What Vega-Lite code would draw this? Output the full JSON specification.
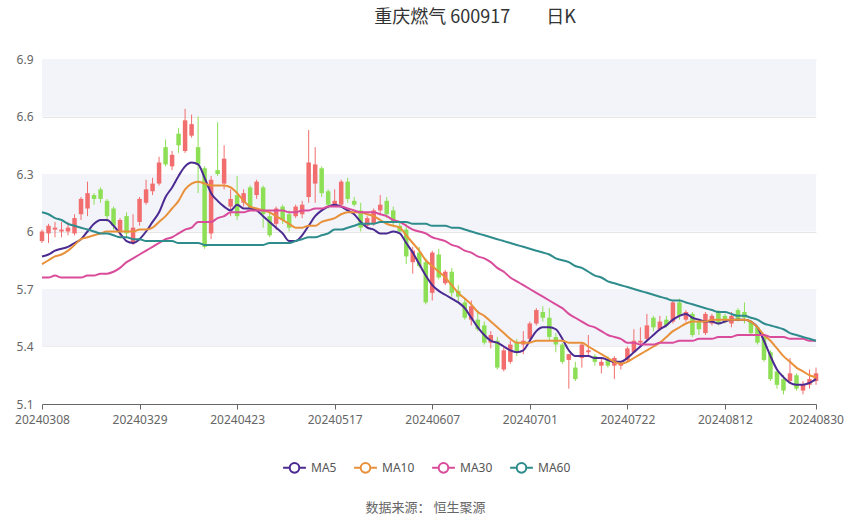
{
  "$schema": "https://vega.github.io/schema/vega-lite/v6.json",
  "width": 774,
  "height": 345,
  "autosize": "none",
  "padding": {"left": 42, "top": 59, "right": 34, "bottom": 113},
  "background": "#ffffff",
  "config": {"view": {"stroke": null}, "font": "Noto Sans CJK SC"},
  "title": {"text": "重庆燃气 600917\u2003\u2003日K", "fontSize": 18, "fontWeight": "normal", "color": "#333333", "font": "Noto Sans CJK SC", "offset": 26, "dx": 46, "anchor": "middle"},
  "datasets": {
    "bands": [{"b0": 6.6, "b1": 6.9}, {"b0": 6.0, "b1": 6.3}, {"b0": 5.4, "b1": 5.7}],
    "k": [
      {"d":"20240308","o":5.95,"h":6.01,"l":5.94,"c":6.00,"MA5":5.87,"MA10":5.83,"MA30":5.76,"MA60":6.10},
      {"d":"20240311","o":5.99,"h":6.04,"l":5.94,"c":6.03,"MA5":5.88,"MA10":5.85,"MA30":5.76,"MA60":6.09},
      {"d":"20240312","o":6.01,"h":6.05,"l":5.97,"c":6.02,"MA5":5.90,"MA10":5.87,"MA30":5.77,"MA60":6.07},
      {"d":"20240313","o":6.00,"h":6.05,"l":5.97,"c":6.01,"MA5":5.91,"MA10":5.88,"MA30":5.76,"MA60":6.06},
      {"d":"20240314","o":6.00,"h":6.05,"l":5.98,"c":6.02,"MA5":5.92,"MA10":5.90,"MA30":5.76,"MA60":6.04},
      {"d":"20240315","o":5.99,"h":6.09,"l":5.98,"c":6.07,"MA5":5.94,"MA10":5.93,"MA30":5.76,"MA60":6.03},
      {"d":"20240318","o":6.09,"h":6.18,"l":6.06,"c":6.17,"MA5":5.96,"MA10":5.96,"MA30":5.76,"MA60":6.02},
      {"d":"20240319","o":6.12,"h":6.26,"l":6.08,"c":6.20,"MA5":6.00,"MA10":5.97,"MA30":5.77,"MA60":6.01},
      {"d":"20240320","o":6.19,"h":6.20,"l":6.14,"c":6.17,"MA5":6.04,"MA10":5.98,"MA30":5.77,"MA60":6.00},
      {"d":"20240321","o":6.22,"h":6.23,"l":6.15,"c":6.17,"MA5":6.06,"MA10":5.99,"MA30":5.78,"MA60":5.99},
      {"d":"20240322","o":6.16,"h":6.17,"l":6.05,"c":6.08,"MA5":6.06,"MA10":6.00,"MA30":5.78,"MA60":5.99},
      {"d":"20240325","o":6.12,"h":6.13,"l":6.01,"c":6.03,"MA5":6.03,"MA10":6.00,"MA30":5.79,"MA60":5.98},
      {"d":"20240326","o":6.00,"h":6.07,"l":5.97,"c":6.06,"MA5":5.99,"MA10":6.00,"MA30":5.81,"MA60":5.97},
      {"d":"20240327","o":6.08,"h":6.10,"l":5.97,"c":5.99,"MA5":5.95,"MA10":6.00,"MA30":5.84,"MA60":5.97},
      {"d":"20240328","o":5.94,"h":6.09,"l":5.93,"c":6.02,"MA5":5.94,"MA10":6.00,"MA30":5.86,"MA60":5.96},
      {"d":"20240329","o":6.05,"h":6.18,"l":6.03,"c":6.17,"MA5":5.96,"MA10":6.01,"MA30":5.88,"MA60":5.96},
      {"d":"20240401","o":6.15,"h":6.27,"l":6.14,"c":6.22,"MA5":6.00,"MA10":6.01,"MA30":5.90,"MA60":5.95},
      {"d":"20240402","o":6.21,"h":6.28,"l":6.19,"c":6.25,"MA5":6.05,"MA10":6.02,"MA30":5.92,"MA60":5.95},
      {"d":"20240403","o":6.25,"h":6.39,"l":6.24,"c":6.36,"MA5":6.10,"MA10":6.05,"MA30":5.94,"MA60":5.95},
      {"d":"20240408","o":6.44,"h":6.48,"l":6.34,"c":6.35,"MA5":6.18,"MA10":6.08,"MA30":5.96,"MA60":5.95},
      {"d":"20240409","o":6.34,"h":6.42,"l":6.32,"c":6.40,"MA5":6.23,"MA10":6.12,"MA30":5.97,"MA60":5.95},
      {"d":"20240410","o":6.51,"h":6.54,"l":6.41,"c":6.45,"MA5":6.29,"MA10":6.16,"MA30":5.99,"MA60":5.94},
      {"d":"20240411","o":6.42,"h":6.64,"l":6.41,"c":6.58,"MA5":6.34,"MA10":6.22,"MA30":6.01,"MA60":5.94},
      {"d":"20240412","o":6.50,"h":6.61,"l":6.49,"c":6.56,"MA5":6.36,"MA10":6.25,"MA30":6.02,"MA60":5.94},
      {"d":"20240415","o":6.44,"h":6.60,"l":6.20,"c":6.35,"MA5":6.35,"MA10":6.26,"MA30":6.05,"MA60":5.94},
      {"d":"20240416","o":6.33,"h":6.34,"l":5.91,"c":5.92,"MA5":6.28,"MA10":6.25,"MA30":6.05,"MA60":5.93},
      {"d":"20240417","o":5.99,"h":6.29,"l":5.96,"c":6.27,"MA5":6.20,"MA10":6.24,"MA30":6.05,"MA60":5.93},
      {"d":"20240418","o":6.32,"h":6.57,"l":6.29,"c":6.30,"MA5":6.16,"MA10":6.24,"MA30":6.07,"MA60":5.93},
      {"d":"20240419","o":6.25,"h":6.45,"l":6.22,"c":6.38,"MA5":6.13,"MA10":6.24,"MA30":6.08,"MA60":5.93},
      {"d":"20240422","o":6.13,"h":6.22,"l":6.08,"c":6.17,"MA5":6.11,"MA10":6.23,"MA30":6.10,"MA60":5.93},
      {"d":"20240423","o":6.19,"h":6.29,"l":6.06,"c":6.08,"MA5":6.14,"MA10":6.20,"MA30":6.10,"MA60":5.93},
      {"d":"20240424","o":6.15,"h":6.22,"l":6.13,"c":6.20,"MA5":6.12,"MA10":6.16,"MA30":6.10,"MA60":5.93},
      {"d":"20240425","o":6.23,"h":6.24,"l":6.11,"c":6.12,"MA5":6.12,"MA10":6.13,"MA30":6.11,"MA60":5.93},
      {"d":"20240426","o":6.19,"h":6.27,"l":6.17,"c":6.26,"MA5":6.11,"MA10":6.12,"MA30":6.11,"MA60":5.93},
      {"d":"20240429","o":6.23,"h":6.24,"l":6.02,"c":6.09,"MA5":6.08,"MA10":6.11,"MA30":6.11,"MA60":5.93},
      {"d":"20240430","o":6.08,"h":6.10,"l":5.97,"c":5.98,"MA5":6.05,"MA10":6.10,"MA30":6.11,"MA60":5.94},
      {"d":"20240506","o":6.04,"h":6.13,"l":6.01,"c":6.12,"MA5":6.02,"MA10":6.08,"MA30":6.11,"MA60":5.94},
      {"d":"20240507","o":6.13,"h":6.14,"l":6.04,"c":6.06,"MA5":5.99,"MA10":6.06,"MA30":6.11,"MA60":5.94},
      {"d":"20240508","o":6.09,"h":6.11,"l":6.00,"c":6.02,"MA5":5.95,"MA10":6.04,"MA30":6.10,"MA60":5.94},
      {"d":"20240509","o":6.08,"h":6.14,"l":6.07,"c":6.13,"MA5":5.95,"MA10":6.02,"MA30":6.10,"MA60":5.95},
      {"d":"20240510","o":6.09,"h":6.16,"l":6.07,"c":6.14,"MA5":5.98,"MA10":6.02,"MA30":6.11,"MA60":5.96},
      {"d":"20240513","o":6.18,"h":6.53,"l":6.15,"c":6.36,"MA5":6.03,"MA10":6.03,"MA30":6.11,"MA60":5.97},
      {"d":"20240514","o":6.25,"h":6.44,"l":6.15,"c":6.35,"MA5":6.08,"MA10":6.03,"MA30":6.12,"MA60":5.97},
      {"d":"20240515","o":6.33,"h":6.34,"l":6.18,"c":6.20,"MA5":6.11,"MA10":6.05,"MA30":6.12,"MA60":5.98},
      {"d":"20240516","o":6.21,"h":6.22,"l":6.12,"c":6.14,"MA5":6.13,"MA10":6.06,"MA30":6.13,"MA60":5.99},
      {"d":"20240517","o":6.14,"h":6.22,"l":6.13,"c":6.16,"MA5":6.14,"MA10":6.07,"MA30":6.13,"MA60":6.01},
      {"d":"20240520","o":6.14,"h":6.27,"l":6.13,"c":6.26,"MA5":6.13,"MA10":6.09,"MA30":6.13,"MA60":6.01},
      {"d":"20240521","o":6.26,"h":6.28,"l":6.15,"c":6.17,"MA5":6.11,"MA10":6.10,"MA30":6.12,"MA60":6.02},
      {"d":"20240522","o":6.16,"h":6.18,"l":6.13,"c":6.14,"MA5":6.09,"MA10":6.10,"MA30":6.11,"MA60":6.03},
      {"d":"20240523","o":6.11,"h":6.15,"l":6.00,"c":6.02,"MA5":6.05,"MA10":6.10,"MA30":6.10,"MA60":6.04},
      {"d":"20240524","o":6.03,"h":6.08,"l":6.02,"c":6.07,"MA5":6.02,"MA10":6.09,"MA30":6.10,"MA60":6.04},
      {"d":"20240527","o":6.04,"h":6.12,"l":6.03,"c":6.11,"MA5":6.01,"MA10":6.08,"MA30":6.10,"MA60":6.04},
      {"d":"20240528","o":6.11,"h":6.19,"l":6.09,"c":6.14,"MA5":5.99,"MA10":6.06,"MA30":6.09,"MA60":6.05},
      {"d":"20240529","o":6.16,"h":6.18,"l":6.07,"c":6.09,"MA5":5.99,"MA10":6.04,"MA30":6.08,"MA60":6.05},
      {"d":"20240530","o":6.11,"h":6.13,"l":6.03,"c":6.05,"MA5":6.00,"MA10":6.03,"MA30":6.06,"MA60":6.05},
      {"d":"20240531","o":6.03,"h":6.05,"l":5.99,"c":6.00,"MA5":5.99,"MA10":6.02,"MA30":6.05,"MA60":6.05},
      {"d":"20240603","o":6.01,"h":6.04,"l":5.83,"c":5.87,"MA5":5.94,"MA10":5.98,"MA30":6.03,"MA60":6.05},
      {"d":"20240604","o":5.84,"h":5.92,"l":5.78,"c":5.90,"MA5":5.89,"MA10":5.94,"MA30":6.01,"MA60":6.04},
      {"d":"20240605","o":5.89,"h":5.92,"l":5.81,"c":5.82,"MA5":5.83,"MA10":5.90,"MA30":6.00,"MA60":6.04},
      {"d":"20240606","o":5.84,"h":5.86,"l":5.62,"c":5.63,"MA5":5.77,"MA10":5.85,"MA30":5.99,"MA60":6.04},
      {"d":"20240607","o":5.68,"h":5.90,"l":5.64,"c":5.89,"MA5":5.72,"MA10":5.82,"MA30":5.97,"MA60":6.03},
      {"d":"20240611","o":5.88,"h":5.91,"l":5.75,"c":5.76,"MA5":5.69,"MA10":5.79,"MA30":5.96,"MA60":6.03},
      {"d":"20240612","o":5.73,"h":5.80,"l":5.72,"c":5.79,"MA5":5.67,"MA10":5.76,"MA30":5.95,"MA60":6.03},
      {"d":"20240613","o":5.79,"h":5.81,"l":5.66,"c":5.68,"MA5":5.65,"MA10":5.72,"MA30":5.93,"MA60":6.02},
      {"d":"20240614","o":5.69,"h":5.72,"l":5.63,"c":5.66,"MA5":5.63,"MA10":5.68,"MA30":5.92,"MA60":6.02},
      {"d":"20240617","o":5.63,"h":5.65,"l":5.54,"c":5.55,"MA5":5.60,"MA10":5.65,"MA30":5.90,"MA60":6.01},
      {"d":"20240618","o":5.54,"h":5.64,"l":5.51,"c":5.61,"MA5":5.55,"MA10":5.62,"MA30":5.89,"MA60":6.00},
      {"d":"20240619","o":5.54,"h":5.59,"l":5.48,"c":5.49,"MA5":5.50,"MA10":5.58,"MA30":5.87,"MA60":5.99},
      {"d":"20240620","o":5.51,"h":5.53,"l":5.41,"c":5.42,"MA5":5.46,"MA10":5.56,"MA30":5.86,"MA60":5.98},
      {"d":"20240621","o":5.42,"h":5.48,"l":5.39,"c":5.46,"MA5":5.43,"MA10":5.53,"MA30":5.84,"MA60":5.97},
      {"d":"20240624","o":5.43,"h":5.45,"l":5.28,"c":5.29,"MA5":5.42,"MA10":5.50,"MA30":5.81,"MA60":5.96},
      {"d":"20240625","o":5.28,"h":5.40,"l":5.27,"c":5.38,"MA5":5.40,"MA10":5.47,"MA30":5.79,"MA60":5.95},
      {"d":"20240626","o":5.32,"h":5.43,"l":5.31,"c":5.41,"MA5":5.38,"MA10":5.44,"MA30":5.76,"MA60":5.94},
      {"d":"20240627","o":5.42,"h":5.44,"l":5.35,"c":5.37,"MA5":5.37,"MA10":5.42,"MA30":5.74,"MA60":5.93},
      {"d":"20240628","o":5.41,"h":5.48,"l":5.36,"c":5.43,"MA5":5.38,"MA10":5.42,"MA30":5.72,"MA60":5.92},
      {"d":"20240701","o":5.44,"h":5.53,"l":5.42,"c":5.52,"MA5":5.43,"MA10":5.42,"MA30":5.70,"MA60":5.91},
      {"d":"20240702","o":5.52,"h":5.60,"l":5.51,"c":5.59,"MA5":5.48,"MA10":5.43,"MA30":5.68,"MA60":5.90},
      {"d":"20240703","o":5.58,"h":5.61,"l":5.53,"c":5.55,"MA5":5.50,"MA10":5.43,"MA30":5.66,"MA60":5.89},
      {"d":"20240704","o":5.55,"h":5.60,"l":5.43,"c":5.45,"MA5":5.50,"MA10":5.43,"MA30":5.64,"MA60":5.88},
      {"d":"20240705","o":5.45,"h":5.47,"l":5.37,"c":5.41,"MA5":5.49,"MA10":5.43,"MA30":5.62,"MA60":5.86},
      {"d":"20240708","o":5.41,"h":5.42,"l":5.31,"c":5.32,"MA5":5.44,"MA10":5.43,"MA30":5.60,"MA60":5.85},
      {"d":"20240709","o":5.33,"h":5.36,"l":5.18,"c":5.36,"MA5":5.38,"MA10":5.42,"MA30":5.57,"MA60":5.84},
      {"d":"20240710","o":5.29,"h":5.32,"l":5.22,"c":5.23,"MA5":5.35,"MA10":5.42,"MA30":5.55,"MA60":5.82},
      {"d":"20240711","o":5.34,"h":5.42,"l":5.29,"c":5.41,"MA5":5.35,"MA10":5.42,"MA30":5.53,"MA60":5.81},
      {"d":"20240712","o":5.37,"h":5.46,"l":5.35,"c":5.38,"MA5":5.35,"MA10":5.40,"MA30":5.51,"MA60":5.79},
      {"d":"20240715","o":5.35,"h":5.36,"l":5.30,"c":5.32,"MA5":5.34,"MA10":5.38,"MA30":5.50,"MA60":5.77},
      {"d":"20240716","o":5.30,"h":5.34,"l":5.26,"c":5.32,"MA5":5.34,"MA10":5.36,"MA30":5.48,"MA60":5.76},
      {"d":"20240717","o":5.33,"h":5.35,"l":5.29,"c":5.30,"MA5":5.33,"MA10":5.34,"MA30":5.46,"MA60":5.74},
      {"d":"20240718","o":5.30,"h":5.35,"l":5.23,"c":5.34,"MA5":5.32,"MA10":5.32,"MA30":5.45,"MA60":5.73},
      {"d":"20240719","o":5.30,"h":5.32,"l":5.28,"c":5.31,"MA5":5.32,"MA10":5.31,"MA30":5.44,"MA60":5.72},
      {"d":"20240722","o":5.33,"h":5.40,"l":5.32,"c":5.39,"MA5":5.34,"MA10":5.32,"MA30":5.42,"MA60":5.71},
      {"d":"20240723","o":5.37,"h":5.49,"l":5.37,"c":5.43,"MA5":5.37,"MA10":5.34,"MA30":5.42,"MA60":5.70},
      {"d":"20240724","o":5.42,"h":5.50,"l":5.40,"c":5.43,"MA5":5.40,"MA10":5.36,"MA30":5.41,"MA60":5.69},
      {"d":"20240725","o":5.44,"h":5.57,"l":5.43,"c":5.51,"MA5":5.43,"MA10":5.38,"MA30":5.41,"MA60":5.68},
      {"d":"20240726","o":5.55,"h":5.56,"l":5.48,"c":5.50,"MA5":5.46,"MA10":5.40,"MA30":5.41,"MA60":5.67},
      {"d":"20240729","o":5.49,"h":5.56,"l":5.48,"c":5.53,"MA5":5.49,"MA10":5.42,"MA30":5.42,"MA60":5.66},
      {"d":"20240730","o":5.54,"h":5.56,"l":5.50,"c":5.51,"MA5":5.51,"MA10":5.45,"MA30":5.42,"MA60":5.65},
      {"d":"20240731","o":5.53,"h":5.64,"l":5.52,"c":5.63,"MA5":5.54,"MA10":5.48,"MA30":5.42,"MA60":5.64},
      {"d":"20240801","o":5.63,"h":5.65,"l":5.54,"c":5.56,"MA5":5.56,"MA10":5.50,"MA30":5.43,"MA60":5.64},
      {"d":"20240802","o":5.54,"h":5.59,"l":5.53,"c":5.58,"MA5":5.57,"MA10":5.52,"MA30":5.43,"MA60":5.63},
      {"d":"20240805","o":5.57,"h":5.58,"l":5.45,"c":5.46,"MA5":5.55,"MA10":5.53,"MA30":5.43,"MA60":5.62},
      {"d":"20240806","o":5.53,"h":5.54,"l":5.46,"c":5.49,"MA5":5.54,"MA10":5.53,"MA30":5.44,"MA60":5.61},
      {"d":"20240807","o":5.47,"h":5.58,"l":5.46,"c":5.57,"MA5":5.53,"MA10":5.53,"MA30":5.44,"MA60":5.60},
      {"d":"20240808","o":5.52,"h":5.57,"l":5.51,"c":5.56,"MA5":5.53,"MA10":5.54,"MA30":5.44,"MA60":5.59},
      {"d":"20240809","o":5.58,"h":5.59,"l":5.51,"c":5.52,"MA5":5.52,"MA10":5.54,"MA30":5.45,"MA60":5.58},
      {"d":"20240812","o":5.56,"h":5.57,"l":5.52,"c":5.53,"MA5":5.53,"MA10":5.54,"MA30":5.45,"MA60":5.58},
      {"d":"20240813","o":5.52,"h":5.58,"l":5.50,"c":5.56,"MA5":5.54,"MA10":5.54,"MA30":5.45,"MA60":5.57},
      {"d":"20240814","o":5.59,"h":5.60,"l":5.53,"c":5.54,"MA5":5.54,"MA10":5.54,"MA30":5.46,"MA60":5.56},
      {"d":"20240815","o":5.58,"h":5.63,"l":5.52,"c":5.55,"MA5":5.54,"MA10":5.54,"MA30":5.46,"MA60":5.56},
      {"d":"20240816","o":5.53,"h":5.54,"l":5.46,"c":5.47,"MA5":5.53,"MA10":5.53,"MA30":5.46,"MA60":5.55},
      {"d":"20240819","o":5.50,"h":5.51,"l":5.41,"c":5.42,"MA5":5.50,"MA10":5.50,"MA30":5.46,"MA60":5.54},
      {"d":"20240820","o":5.45,"h":5.46,"l":5.32,"c":5.33,"MA5":5.43,"MA10":5.46,"MA30":5.46,"MA60":5.52},
      {"d":"20240821","o":5.37,"h":5.38,"l":5.22,"c":5.23,"MA5":5.35,"MA10":5.43,"MA30":5.45,"MA60":5.51},
      {"d":"20240822","o":5.27,"h":5.28,"l":5.18,"c":5.20,"MA5":5.28,"MA10":5.39,"MA30":5.45,"MA60":5.50},
      {"d":"20240823","o":5.23,"h":5.25,"l":5.15,"c":5.17,"MA5":5.24,"MA10":5.35,"MA30":5.45,"MA60":5.49},
      {"d":"20240826","o":5.22,"h":5.34,"l":5.21,"c":5.26,"MA5":5.21,"MA10":5.32,"MA30":5.44,"MA60":5.47},
      {"d":"20240827","o":5.25,"h":5.26,"l":5.17,"c":5.18,"MA5":5.20,"MA10":5.29,"MA30":5.44,"MA60":5.46},
      {"d":"20240828","o":5.17,"h":5.22,"l":5.15,"c":5.20,"MA5":5.20,"MA10":5.27,"MA30":5.44,"MA60":5.45},
      {"d":"20240829","o":5.20,"h":5.28,"l":5.18,"c":5.23,"MA5":5.21,"MA10":5.25,"MA30":5.43,"MA60":5.44},
      {"d":"20240830","o":5.22,"h":5.29,"l":5.20,"c":5.26,"MA5":5.23,"MA10":5.24,"MA30":5.43,"MA60":5.43}
    ]
  },
  "layer": [
    {
      "data": {"name": "bands"},
      "mark": {"type": "rect", "color": "#f3f4fa"},
      "encoding": {
        "y": {"field": "b0", "type": "quantitative", "scale": {"domain": [5.1, 6.9], "nice": false, "zero": false}},
        "y2": {"field": "b1"}
      }
    },
    {
      "data": {"name": "k"},
      "mark": {"type": "rule", "strokeWidth": 1},
      "encoding": {
        "x": {"field": "d", "type": "nominal", "scale": {"type": "point", "padding": 0},
              "axis": {"values": ["20240308","20240329","20240423","20240517","20240607","20240701","20240722","20240812","20240830"],
                       "labelAngle": 0, "labelColor": "#666666", "labelFontSize": 12, "labelFont": "Noto Sans", "labelPadding": 5,
                       "domainColor": "#666666", "tickColor": "#666666", "tickSize": 5, "labelOverlap": false,
                       "title": "数据来源：  恒生聚源", "titleFont": "Noto Sans CJK SC", "titleFontSize": 13, "titleFontWeight": "normal",
                       "titleColor": "#666666", "titleX": 383, "titleY": 103, "titleBaseline": "middle", "titleAnchor": "middle", "titleAlign": "center"}},
        "y": {"field": "l", "type": "quantitative", "scale": {"domain": [5.1, 6.9], "nice": false, "zero": false},
              "axis": {"values": [5.1, 5.4, 5.7, 6.0, 6.3, 6.6, 6.9], "format": ".1~f", "title": null, "domain": false, "ticks": false,
                       "labelColor": "#666666", "labelFontSize": 12, "labelFont": "Noto Sans", "labelPadding": 9, "gridColor": "#e6e6e6"}},
        "y2": {"field": "h"},
        "color": {"condition": {"test": "datum.c >= datum.o", "value": "#f26d6d"}, "value": "#8ddf55"}
      }
    },
    {
      "data": {"name": "k"},
      "mark": {"type": "bar", "size": 4.5},
      "encoding": {
        "x": {"field": "d", "type": "nominal"},
        "y": {"field": "o", "type": "quantitative"},
        "y2": {"field": "c"},
        "color": {"condition": {"test": "datum.c >= datum.o", "value": "#f26d6d"}, "value": "#8ddf55"}
      }
    },
    {
      "data": {"name": "k"},
      "transform": [{"fold": ["MA5", "MA10", "MA30", "MA60"], "as": ["ma", "v"]}],
      "mark": {"type": "line", "strokeWidth": 2, "interpolate": "monotone"},
      "encoding": {
        "x": {"field": "d", "type": "nominal"},
        "y": {"field": "v", "type": "quantitative"},
        "stroke": {"field": "ma", "type": "nominal",
                   "scale": {"domain": ["MA5", "MA10", "MA30", "MA60"], "range": ["#4b2a91", "#e8913a", "#d94b9b", "#2f8c8c"]},
                   "legend": {"orient": "none", "legendX": 240, "legendY": 396, "direction": "horizontal", "title": null,
                              "symbolType": "M-1,0L-0.42,0M0.42,0L1,0M-0.42,0A0.42,0.42,0,1,1,0.42,0A0.42,0.42,0,1,1,-0.42,0Z",
                              "symbolSize": 520, "symbolStrokeWidth": 2, "symbolFillColor": "#ffffff",
                              "labelFont": "Noto Sans", "labelFontSize": 12, "labelColor": "#555555", "labelOffset": 4, "columnPadding": 13}}
      }
    }
  ]
}
